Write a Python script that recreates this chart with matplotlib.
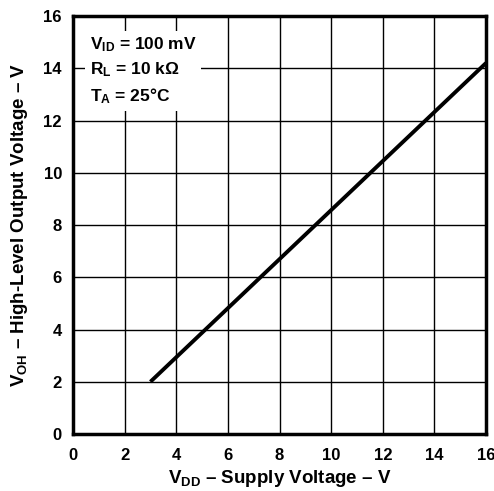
import matplotlib
matplotlib.use("Agg")
import matplotlib.pyplot as plt

vdd = [3, 16]
voh = [2, 14.2]
ticks = [0, 2, 4, 6, 8, 10, 12, 14, 16]

plt.rcParams['font.family'] = ['Liberation Sans', 'DejaVu Sans']
plt.rcParams['font.weight'] = 'bold'
plt.rcParams['mathtext.fontset'] = 'custom'
plt.rcParams['mathtext.rm'] = 'Liberation Sans:bold'
plt.rcParams['mathtext.it'] = 'Liberation Sans:bold'
plt.rcParams['mathtext.bf'] = 'Liberation Sans:bold'

fig = plt.figure(figsize=(4.94, 4.91), dpi=100)
ax = fig.add_axes([73/494, 1 - 434/491, (486-73)/494, (434-16)/491])
ax.plot(vdd, voh, color='black', lw=2.8, solid_capstyle='butt', zorder=3)
ax.set_xlim(0, 16)
ax.set_ylim(0, 16)
ax.set_xticks(ticks)
ax.set_yticks(ticks)
ax.tick_params(length=0, labelsize=12)
ax.tick_params(axis='x', pad=10)
ax.tick_params(axis='y', pad=8)
for lab in ax.get_xticklabels() + ax.get_yticklabels():
    lab.set_fontweight('bold')
ax.grid(True, color='black', lw=1.0)
for s in ax.spines.values():
    s.set_linewidth(2.5)
ax.set_xlabel(r'$\mathrm{V_{DD}}$ – Supply Voltage – V', fontsize=13.5, fontweight='bold', labelpad=4)
ax.set_ylabel(r'$\mathrm{V_{OH}}$ – High-Level Output Voltage – V', fontsize=13.5, fontweight='bold', labelpad=10)

txt = '$\\mathrm{V_{ID}}$ = 100 mV\n$\\mathrm{R_L}$ = 10 k$\\Omega$\n$\\mathrm{T_A}$ = 25°C'
ax.text(0.04, 0.955, txt, transform=ax.transAxes, fontsize=12.5, fontweight='bold',
        va='top', ha='left', linespacing=1.5,
        bbox=dict(facecolor='white', edgecolor='none', pad=3), zorder=4)

fig.savefig('out.png', dpi=100)
